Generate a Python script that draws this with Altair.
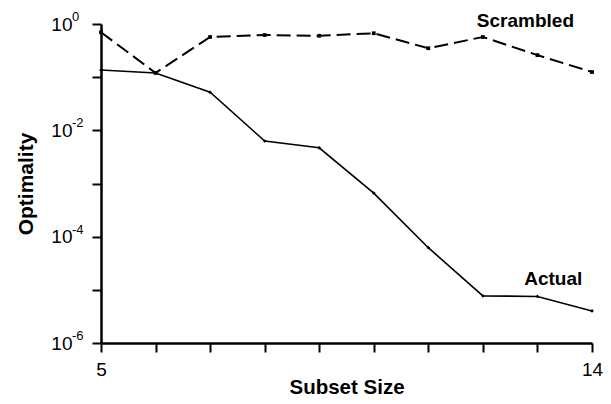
import altair as alt
import pandas as pd

subset_size = [5, 6, 7, 8, 9, 10, 11, 12, 13, 14]
actual = [0.136, 0.12, 0.052, 0.0063, 0.0047, 0.00066, 6.2e-5, 7.7e-6, 7.5e-6, 4.0e-6]
scrambled = [0.7, 0.12, 0.57, 0.62, 0.6, 0.67, 0.35, 0.57, 0.26, 0.125]

y_ticks = [1e-6, 1e-5, 1e-4, 1e-3, 1e-2, 1e-1, 1.0]
exponents = ["0", "-2", "-4", "-6"]
exp_values = [1.0, 1e-2, 1e-4, 1e-6]

label_text = ["Scrambled", "Actual"]
label_x = [12.78, 13.29]
label_y = [1.14, 1.6e-5]

df_a = pd.DataFrame({"x": subset_size, "y": actual})
df_s = pd.DataFrame({"x": subset_size, "y": scrambled})
df_exp = pd.DataFrame({"v": exp_values, "t": exponents})
df_lab = pd.DataFrame({"x": label_x, "y": label_y, "t": label_text})

FONT = "Liberation Sans"

xscale = alt.Scale(domain=[5, 14], nice=False, zero=False)
yscale = alt.Scale(type="log", domain=[1e-6, 1], nice=False)

xaxis = alt.Axis(
    title="Subset Size", values=subset_size,
    labelExpr="datum.value == 5 || datum.value == 14 ? datum.value : ''",
    grid=False, tickSize=9, tickWidth=2, domainWidth=2.5,
    domainColor="black", tickColor="black",
    labelFont=FONT, labelFontSize=19, labelColor="black", labelPadding=8,
    labelFlush=False,
    titleFont=FONT, titleFontSize=20.5, titleFontWeight="bold", titleColor="black",
    titlePadding=-2,
)
yaxis = alt.Axis(
    title="Optimality", values=y_ticks,
    labelExpr="round(log(datum.value)/LN10) % 2 == 0 ? '10' : ''",
    grid=False, tickSize=9, tickWidth=2, domainWidth=2.5,
    domainColor="black", tickColor="black",
    labelFont=FONT, labelFontSize=19, labelColor="black", labelPadding=20,
    labelFlush=False,
    titleFont=FONT, titleFontSize=21, titleFontWeight="bold", titleColor="black",
    titlePadding=14,
)

X = alt.X("x:Q", scale=xscale, axis=xaxis)
Y = alt.Y("y:Q", scale=yscale, axis=yaxis)

scr_line = alt.Chart(df_s).mark_line(
    color="black", strokeWidth=2, strokeDash=[14, 6],
    point=alt.OverlayMarkDef(shape="square", size=14, color="black", filled=True),
).encode(x=X, y=Y)

actual_line = alt.Chart(df_a).mark_line(
    color="black", strokeWidth=1.6,
    point=alt.OverlayMarkDef(shape="diamond", size=14, color="black", filled=True),
).encode(x=X, y=Y)

exp_text = alt.Chart(df_exp).mark_text(
    font=FONT, fontSize=13, align="left", baseline="middle", dy=-7, color="black"
).encode(x=alt.value(-29), y=alt.Y("v:Q", scale=yscale, axis=yaxis), text="t:N")

lab_text = alt.Chart(df_lab).mark_text(
    font=FONT, fontSize=19, fontWeight="bold", align="center", baseline="middle", color="black"
).encode(x=X, y=Y, text="t:N")

chart = alt.layer(scr_line, actual_line, exp_text, lab_text).properties(
    width=491, height=319,
    autosize=alt.AutoSizeParams(type="none"),
    padding={"left": 93, "top": 16, "right": 11, "bottom": 53},
).configure_view(stroke=None)

chart.save("out.html", embed_options={"renderer": "svg", "actions": False})
